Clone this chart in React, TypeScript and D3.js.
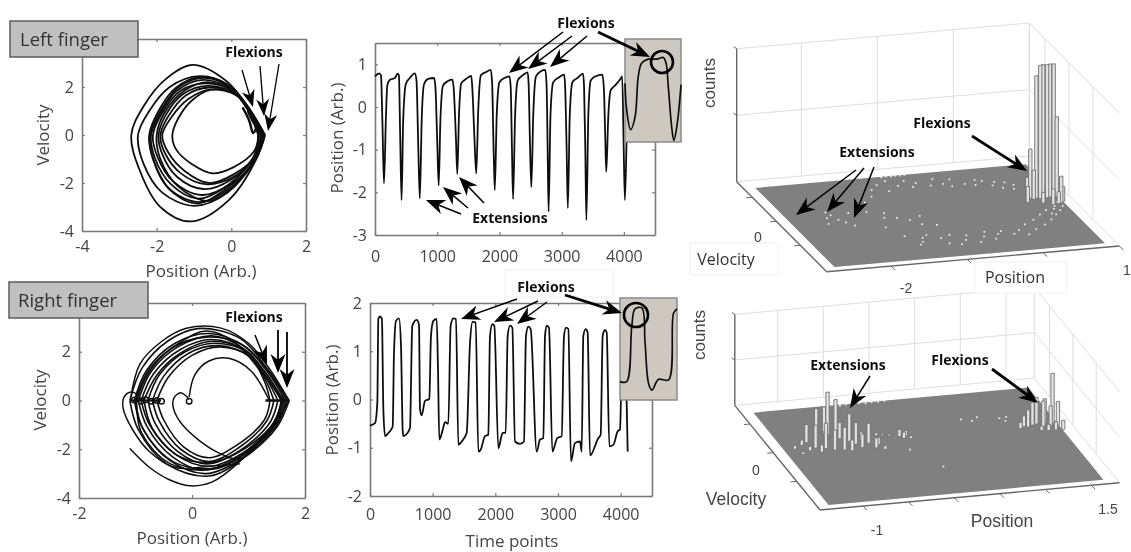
import React, { useEffect, useRef } from 'react';
import * as d3 from 'd3';

type P = [number, number];
type Bar = [number, number, number];

// Left finger phase loops: [position, velocity]
const leftLoops: P[][] = [
  [[-2.68,0],[-2.35,1.2],[-1.75,2.34],[-1.03,2.92],[-0.15,2.27],[0.48,1.1],[0.88,0],[0.66,-1.03],[-0.06,-2.7],[-1.08,-3.6],[-1.92,-2.97],[-2.46,-1.45]],
  [[-2.5,0],[-2.2,1.0],[-1.65,2.0],[-0.85,2.45],[-0.1,2.1],[0.45,1.05],[0.85,0],[0.62,-1.0],[-0.1,-2.4],[-1.0,-2.95],[-1.85,-2.4],[-2.35,-1.2]],
  [[-2.2,0],[-1.95,1.0],[-1.5,1.95],[-0.8,2.42],[-0.05,2.0],[0.5,1.0],[0.9,0],[0.65,-1.0],[-0.15,-2.25],[-0.95,-2.85],[-1.7,-2.2],[-2.1,-1.0]],
  [[-2.18,0],[-1.88,1.05],[-1.4,2.0],[-0.72,2.38],[0,1.95],[0.42,1.1],[0.8,0],[0.62,-1.1],[-0.2,-2.4],[-0.85,-2.8],[-1.62,-2.3],[-2.08,-1.05]],
  [[-2.15,0],[-1.9,0.9],[-1.45,1.85],[-0.75,2.3],[0,1.9],[0.45,1.05],[0.72,0],[0.6,-0.9],[-0.1,-2.1],[-0.9,-2.65],[-1.62,-2.05],[-2.05,-0.95]],
  [[-2.1,0],[-1.82,1.0],[-1.35,1.85],[-0.7,2.15],[0.02,1.85],[0.5,0.95],[0.8,0],[0.62,-0.85],[-0.05,-2.05],[-0.8,-2.5],[-1.55,-1.95],[-1.98,-0.9]],
  [[-2.0,0],[-1.78,0.95],[-1.25,1.85],[-0.62,2.2],[0.05,1.8],[0.52,0.95],[0.88,0],[0.68,-0.95],[0.02,-2.2],[-0.62,-2.75],[-1.42,-2.15],[-1.9,-1.0]],
  [[-1.95,0],[-1.75,0.85],[-1.3,1.7],[-0.65,2.05],[0.05,1.75],[0.55,0.9],[0.72,0],[0.65,-0.8],[0,-1.85],[-0.75,-2.25],[-1.45,-1.75],[-1.85,-0.8]],
  [[-1.9,0],[-1.68,0.8],[-1.22,1.65],[-0.6,1.98],[0.1,1.72],[0.58,0.85],[0.85,0],[0.68,-0.85],[0.05,-1.75],[-0.7,-2.05],[-1.35,-1.6],[-1.78,-0.75]],
  [[-1.85,0],[-1.6,0.75],[-1.15,1.5],[-0.55,1.9],[0.12,1.68],[0.6,0.8],[0.9,0],[0.7,-0.8],[0.05,-1.65],[-0.6,-2.0],[-1.25,-1.5],[-1.7,-0.7]],
  [[-1.58,0],[-1.42,0.7],[-1.05,1.45],[-0.55,1.88],[0.15,1.65],[0.6,0.78],[0.75,0],[0.6,-0.7],[0.05,-1.35],[-0.5,-1.6],[-1.05,-1.22],[-1.48,-0.6]]
];
const leftFlexSweep: P[] = [[0.3,1.15],[0.42,0.8],[0.5,0.5],[0.58,0.08],[0.66,0.3],[0.56,0.62],[0.44,1.0],[0.54,0.78],[0.66,0.45],[0.76,0.12]];

// Right finger phase loops, split at both end points
const rightLoops: P[][] = [
  [[-1.1,0],[-0.88,1.35],[-0.42,2.45],[0.1,2.95],[0.85,2.55],[1.35,1.25],[1.72,0],[1.5,-1.1],[0.95,-2.3],[0.3,-3.1],[-0.45,-2.6],[-0.95,-1.2]],
  [[-1.02,0],[-0.8,1.25],[-0.3,2.35],[0.3,2.75],[0.95,2.2],[1.4,1.05],[1.68,0],[1.5,-1.0],[0.9,-2.35],[0.25,-3.0],[-0.4,-2.45],[-0.88,-1.1]],
  [[-0.98,0],[-0.78,1.1],[-0.35,2.15],[0.25,2.6],[0.88,2.3],[1.36,1.1],[1.65,0],[1.52,-0.85],[1.05,-2.0],[0.42,-2.8],[-0.38,-2.6],[-0.9,-1.3]],
  [[-0.95,0],[-0.72,1.2],[-0.25,2.2],[0.35,2.65],[0.9,2.15],[1.35,1.0],[1.6,0],[1.42,-1.0],[0.85,-2.25],[0.2,-2.85],[-0.35,-2.3],[-0.8,-1.05]],
  [[-0.9,0],[-0.68,1.1],[-0.2,2.1],[0.35,2.5],[0.95,2.05],[1.35,0.95],[1.62,0],[1.45,-1.0],[0.9,-2.15],[0.3,-2.7],[-0.3,-2.2],[-0.75,-1.0]],
  [[-0.85,0],[-0.62,1.05],[-0.22,1.92],[0.3,2.42],[0.85,2.15],[1.3,1.02],[1.58,0],[1.45,-0.9],[0.95,-1.95],[0.38,-2.52],[-0.22,-2.3],[-0.7,-1.15]],
  [[-0.78,0],[-0.58,1.05],[-0.12,2.0],[0.42,2.35],[1.0,1.95],[1.32,0.9],[1.52,0],[1.38,-0.9],[0.85,-2.05],[0.25,-2.6],[-0.25,-2.1],[-0.65,-0.95]],
  [[-0.7,0],[-0.5,1.0],[-0.05,1.95],[0.45,2.25],[1.0,1.85],[1.3,0.85],[1.45,0],[1.32,-0.85],[0.82,-1.95],[0.3,-2.5],[-0.2,-2.0],[-0.58,-0.85]],
  [[-0.62,0],[-0.42,0.95],[0,1.85],[0.5,2.2],[1.02,1.8],[1.28,0.8],[1.38,0],[1.28,-0.8],[0.78,-1.85],[0.3,-2.35],[-0.15,-1.9],[-0.5,-0.8]],
  [[-1.0,0],[-0.75,1.3],[-0.2,2.4],[0.25,2.85],[0.75,2.4],[1.25,1.1],[1.62,0],[1.45,-1.05],[1.0,-2.05],[0.45,-2.75],[-0.3,-2.55],[-0.85,-1.25]]
];

const rightOuterTail: P[] = [[-1.1,-1.97],[-0.75,-2.75],[-0.4,-3.25],[-0.04,-3.5],[0.35,-3.35],[0.8,-2.6],[1.2,-1.6],[1.5,-0.8],[1.72,0]];
const rightBigArc: P[] = [[-1.08,0.15],[-0.92,1.5],[-0.55,2.4],[-0.1,2.96],[0.5,2.98],[1.0,2.35],[1.4,1.2],[1.7,0.05]];
const rightCurl: P[] = [[0.85,-2.6],[0.3,-2.7],[-0.3,-2.75],[-0.75,-2.1],[-1.05,-1.2],[-1.22,-0.3],[-1.2,0.15],[-1.08,0.35],[-0.95,0.2],[-0.9,0]];
const rightInner: P[] = [[1.37,0],[1.05,1.2],[0.67,1.72],[0.3,1.62],[0.05,1.05],[-0.05,0.15]];
const rightInnerLow: P[] = [[-0.05,0.05],[-0.2,0.32],[-0.32,0.1],[-0.33,-0.3],[-0.15,-1.05],[0.43,-2.1],[0.85,-2.4],[1.15,-1.8]];
const rightFlatEnd: P[] = [[1.3,0],[1.72,0]];
const rightFlatStart: P[] = [[-1.1,0],[-0.55,0]];
const rightRings: P[] = [[-1.02,0.02],[-0.9,-0.03],[-0.82,0.03],[-0.72,-0.03],[-0.62,0],[-0.54,-0.03],[-0.05,-0.03]];

// Position traces: [time point, position]
const leftTrace: P[] = [[0,0.72],[70,0.79],[96,0.74],[120,-0.4],[144,-1.79],[176,-0.23],[197,0.5],[240,0.64],[320,0.68],[363,0.78],[384,0.74],[405,-0.7],[427,-2.18],[453,-0.31],[496,0.54],[560,0.68],[640,0.79],[667,0.62],[695,-0.9],[720,-2.14],[752,-0.23],[789,0.54],[853,0.66],[949,0.68],[971,0.47],[1000,-0.8],[1024,-1.84],[1051,-0.31],[1093,0.5],[1173,0.61],[1243,0.64],[1264,0.45],[1300,-0.7],[1323,-1.57],[1349,-0.23],[1387,0.56],[1467,0.66],[1547,0.73],[1563,0.47],[1600,-0.8],[1627,-1.56],[1659,-0.08],[1701,0.74],[1787,0.82],[1861,0.87],[1883,0.54],[1905,-0.9],[1925,-1.95],[1957,-0.16],[2000,0.58],[2080,0.68],[2160,0.72],[2181,0.47],[2200,-0.9],[2219,-2.16],[2251,-0.23],[2293,0.62],[2373,0.74],[2453,0.81],[2469,0.54],[2490,-0.8],[2512,-1.88],[2544,-0.16],[2587,0.72],[2667,0.84],[2736,0.87],[2757,0.54],[2775,-1.0],[2790,-2.45],[2821,-0.16],[2864,0.58],[2960,0.7],[3040,0.76],[3056,0.47],[3080,-1.0],[3099,-2.37],[3131,-0.16],[3173,0.58],[3253,0.68],[3344,0.78],[3360,0.47],[3380,-1.0],[3397,-2.65],[3429,-0.16],[3467,0.62],[3547,0.72],[3653,0.76],[3680,0.39],[3700,-0.7],[3717,-1.52],[3749,-0.23],[3787,0.39],[3840,0.48],[3947,0.66],[3973,0.72],[3995,-0.8],[4016,-2.18],[4053,-0.23],[4080,0.5]];
const rightTrace: P[] = [[0,-0.54],[80,-0.49],[117,-0.07],[133,1.67],[160,1.72],[190,1.67],[213,-0.2],[240,-0.76],[290,-0.7],[362,-0.56],[383,0.97],[415,1.63],[463,1.68],[495,1.1],[521,-0.62],[532,-0.76],[574,-0.73],[638,-0.59],[675,1.53],[745,1.65],[782,1.55],[798,-0.2],[824,-0.33],[878,-0.03],[947,0.01],[973,1.32],[1011,1.63],[1064,1.67],[1085,0.63],[1106,-0.83],[1160,-0.63],[1197,-0.47],[1250,-0.5],[1287,1.53],[1330,1.68],[1372,1.67],[1410,-0.94],[1463,-0.87],[1543,-0.69],[1596,1.18],[1638,1.61],[1686,1.6],[1729,-1.08],[1766,-1.04],[1835,-0.76],[1888,-0.73],[1915,1.32],[1952,1.56],[1984,1.53],[2048,-1.01],[2117,-0.69],[2165,-0.69],[2197,1.32],[2234,1.53],[2271,1.49],[2314,-0.87],[2394,-0.92],[2457,-0.87],[2489,1.32],[2527,1.51],[2564,1.46],[2660,-1.08],[2713,-0.83],[2766,-0.8],[2793,1.32],[2819,1.53],[2856,1.49],[2910,-1.08],[2989,-0.8],[3059,-0.76],[3096,1.32],[3128,1.49],[3165,1.46],[3207,-1.28],[3271,-0.9],[3351,-0.87],[3378,-1.08],[3404,1.32],[3441,1.46],[3473,1.39],[3511,-1.16],[3644,-0.8],[3681,-0.73],[3713,1.32],[3750,1.44],[3777,1.39],[3819,-0.97],[3883,-0.94],[3952,-0.66],[3989,-0.62],[4016,0.63],[4040,1.4],[4070,1.45],[4096,-0.07],[4112,-1.08]];

// Zoomed insets: [inset time, position]
const leftInset: P[] = [[0,-0.43],[9,-1.6],[30,-2.46],[54,-1.9],[71,-0.14],[89,0.44],[125,0.62],[170,0.62],[205,0.69],[220,0.44],[232,-0.58],[250,-2.34],[262,-2.93],[280,-2.19],[300,-0.5]];
const rightInset: P[] = [[0,-1.28],[35,-1.28],[62,0.89],[79,1.57],[115,1.61],[132,0.23],[150,-1.34],[168,-1.61],[203,-1.19],[256,-1.21],[282,1.41],[300,1.57]];

// 2D histogram cells on the floor: [position, velocity, counts]
const leftBars: Bar[] = [[0.42,-0.25,12],[0.46,0.05,16],[0.5,0.05,37],[0.53,-0.05,22],[0.575,0.02,92],[0.62,-0.02,100],[0.665,0.02,100],[0.71,-0.02,100],[0.755,0.02,100],[0.8,0,100],[0.84,0,60],[0.86,-0.4,11],[0.82,-0.5,20],[0.78,-0.55,9],[0.7,-0.6,12],[0.6,-0.4,8]];
const rightBars: Bar[] = [[-1.22,0.1,4],[-1.18,-0.3,3],[-1.12,0.3,6],[-1.08,-0.1,5],[-1.05,0.45,20],[-1.0,0.05,25],[-0.97,-0.25,8],[-0.93,0.55,35],[-0.9,-0.05,28],[-0.86,0.3,14],[-0.82,-0.2,22],[-0.8,0.9,30],[-0.77,0.83,47],[-0.75,0.3,47],[-0.72,-0.25,25],[-0.68,0.5,18],[-0.65,-0.35,12],[-0.6,0.3,30],[-0.56,0.05,24],[-0.52,-0.2,15],[-0.47,0.3,9],[-0.42,0.05,22],[-0.38,-0.3,11],[-0.33,-0.1,8],[-0.3,-0.45,4],[-0.28,0.5,3],[-0.22,0.45,2],[-0.15,0.4,2],[-0.05,0.3,8],[-0.02,0.15,7],[0.02,0.3,6],[0.05,0.1,3],
  [1.25,0.1,7],[1.3,0.2,12],[1.34,0.15,19],[1.4,0.25,25],[1.45,0.3,29],[1.5,0.1,28],[1.54,0.3,27],[1.58,0.1,22],[1.62,0.25,55],[1.66,0.1,26],[1.68,-0.2,10],[1.6,-0.2,9],[1.45,-0.15,5],[1.52,-0.2,7]];

// Isolated low-count cells, too small to show a bar
const leftDots: P[] = [[-2.2,-0.1],[-2.12,0.1],[-2.08,-0.3],[-2.02,-0.55],[-2.25,-0.55],[-2.15,0.35],[-1.95,-0.85],[-1.88,0.15],[-1.72,0.5],[-1.65,0.1],[-1.55,0.85],[-1.4,1.25],[-1.32,1.75],[-1.2,2.1],[-1.05,2.35],[-1.12,1.55],[-0.95,1.9],[-0.82,2.25],[-0.78,1.72],[-0.7,2.0],[-0.55,1.7],[-0.45,2.2],[-0.38,1.75],[-0.3,1.5],[-0.25,2.05],[-0.12,1.6],[0,1.45],[0.05,1.85],[0.12,1.7],[0.2,1.3],[0.26,1.55],[0.3,1.05],[0.38,1.45],[0.42,0.9],[0.46,1.2],
  [-1.45,-0.1],[-1.5,-0.45],[-1.35,-0.55],[-1.22,-0.8],[-1.12,-1.2],[-1.05,-0.55],[-0.95,-1.35],[-1.6,-1.2],[-1.48,-2.0],[-1.38,-2.75],[-1.32,-2.55],[-1.28,-2.25],[-1.2,-2.05],[-1.02,-2.85],[-1.06,-2.4],[-0.92,-2.2],[-0.88,-3.0],[-0.78,-2.7],[-0.72,-2.35],[-0.62,-2.95],[-0.52,-2.55],[-0.46,-2.2],[-0.4,-2.8],[-0.32,-2.45],[-0.25,-2.25],[-0.12,-2.55],[-0.02,-2.3],[0.05,-2.7],[0.12,-1.9],[0.2,-2.35],[0.28,-1.6],[0.36,-2.05],[0.42,-1.25],[0.5,-1.7],[0.55,-0.95],[0.58,-1.25],[0.62,-1.35],[0.66,-0.9],[0.7,-0.7],[0.72,-1.05],[0.78,-0.4],[0.8,-0.75],
  [-1.05,2.66],[-0.98,2.7],[-0.92,2.66],[-0.86,2.7],[-0.8,2.68],[-0.74,2.7]];
const rightDots: P[] = [[-0.4,2.66],[-0.33,2.7],[-0.26,2.68],[-0.19,2.7],[-0.12,2.66],[-0.05,2.7],[0.02,2.68],[0.09,2.7],
  [1.12,0.9],[1.16,0.7],[1.2,0.95],[0.72,1.05],[0.82,0.9],[0.9,1.1],[0.15,-1.9],[-0.05,-0.6]];

// Axis ticks
const leftPhaseX = [-4, -2, 0, 2];
const rightPhaseX = [-2, 0, 2];
const phaseY = [-4, -2, 0, 2];
const traceT = [0, 1000, 2000, 3000, 4000];
const leftTraceY = [-3, -2, -1, 0, 1];
const rightTraceY = [-2, -1, 0, 1, 2];
const leftPosTicks = [-2, -1, 0, 1];
const rightPosTicks = [-1, -0.5, 0, 0.5, 1, 1.5];
const velTicks = [-2, 0, 2];
const countTicks = [50, 100];

const FONT = '"Open Sans", sans-serif';
const INK = '#111';
const AXIS = '#7a7a7a';
const LABEL = '#444';

type G = d3.Selection<SVGGElement, unknown, null, undefined>;

const App: React.FC = () => {
  const svgRef = useRef<SVGSVGElement>(null);

  useEffect(() => {
    if (!svgRef.current) return;
    const svg = d3.select(svgRef.current);
    svg.selectAll('*').remove();

    svg.append('filter').attr('id', 'soft')
      .attr('filterUnits', 'userSpaceOnUse')
      .attr('x', 0).attr('y', 0).attr('width', 1131).attr('height', 552)
      .append('feGaussianBlur').attr('stdDeviation', 0.4);

    const root: G = svg.append('g').attr('filter', 'url(#soft)') as any;
    root.append('rect').attr('width', 1131).attr('height', 552).attr('fill', '#fff');

    const txt = (s: string, x: number, y: number, size: number, opts: any = {}) => {
      const t = root.append('text')
        .attr('x', x).attr('y', y)
        .attr('font-family', opts.family || FONT)
        .attr('font-size', size)
        .attr('font-weight', opts.weight || 400)
        .attr('fill', opts.fill || LABEL)
        .attr('text-anchor', opts.anchor || 'middle')
        .text(s);
      if (opts.rotate) t.attr('transform', `rotate(-90 ${x} ${y})`);
      return t;
    };

    // Frame with inward ticks on all four sides, like a boxed MATLAB axes
    const frame = (x: d3.ScaleLinear<number, number>, y: d3.ScaleLinear<number, number>, xt: number[], yt: number[], xPad = 13) => {
      const [x0, x1] = x.range();
      const [y0, y1] = y.range();
      const g = root.append('g');
      const tickFmt = (d: any) => String(d);
      const style = (a: d3.Selection<SVGGElement, unknown, null, undefined>) => {
        a.select('.domain').attr('stroke', AXIS).attr('stroke-width', 1.6);
        a.selectAll('line').attr('stroke', AXIS).attr('stroke-width', 1.2);
        a.selectAll('text').attr('font-family', FONT).attr('font-size', 16).attr('fill', LABEL);
      };
      const bottom = g.append('g').attr('transform', `translate(0,${y0})`)
        .call(d3.axisBottom(x).tickValues(xt).tickSize(-3).tickSizeOuter(0).tickPadding(xPad).tickFormat(tickFmt));
      style(bottom as any);
      const left = g.append('g').attr('transform', `translate(${x0},0)`)
        .call(d3.axisLeft(y).tickValues(yt).tickSize(-3).tickSizeOuter(0).tickPadding(8).tickFormat(tickFmt));
      style(left as any);
      const top = g.append('g').attr('transform', `translate(0,${y1})`)
        .call(d3.axisTop(x).tickValues(xt).tickSize(-3).tickSizeOuter(0).tickFormat(() => ''));
      style(top as any);
      const right = g.append('g').attr('transform', `translate(${x1},0)`)
        .call(d3.axisRight(y).tickValues(yt).tickSize(-3).tickSizeOuter(0).tickFormat(() => ''));
      style(right as any);
    };

    const drawLine = (g: G, pts: P[], x: any, y: any, curve: d3.CurveFactory, w = 1.5) => {
      const line = d3.line<P>().x(d => x(d[0])).y(d => y(d[1])).curve(curve);
      g.append('path').attr('d', line(pts)!).attr('fill', 'none')
        .attr('stroke', INK).attr('stroke-width', w).attr('stroke-linejoin', 'round');
    };

    // Arrow: shaft plus a stealth head that ends at the tip
    const arrow = (x1: number, y1: number, x2: number, y2: number, w = 1.5, len = 19, half = 7.5) => {
      const a = Math.atan2(y2 - y1, x2 - x1);
      const c = Math.cos(a), s = Math.sin(a);
      const at = (back: number, side: number) => `${x2 - back * c - side * s},${y2 - back * s + side * c}`;
      root.append('line')
        .attr('x1', x1).attr('y1', y1)
        .attr('x2', x2 - len * 0.6 * c).attr('y2', y2 - len * 0.6 * s)
        .attr('stroke', '#000').attr('stroke-width', w);
      root.append('polygon')
        .attr('points', [at(0, 0), at(len, half), at(len * 0.7, 0), at(len, -half)].join(' '))
        .attr('fill', '#000');
    };

    const bold = (s: string, x: number, y: number) =>
      txt(s, x, y, 14, { weight: 700, fill: '#111' });

    const ghostBox = (x: number, y: number, w: number, h: number) =>
      root.append('rect').attr('x', x).attr('y', y).attr('width', w).attr('height', h)
        .attr('fill', '#fff').attr('stroke', '#f0f0f0');

    // ---------- phase portraits ----------
    const ax = d3.scaleLinear().domain([-4, 2]).range([82, 306]);
    const ay = d3.scaleLinear().domain([-4, 4]).range([231, 39]);
    frame(ax, ay, leftPhaseX, phaseY, 10);
    const ag = root.append('g') as unknown as G;
    // start at the flexion point so that only the right end stays sharp
    leftLoops.forEach(l => {
      const open = [...l.slice(6), ...l.slice(0, 7)] as P[];
      drawLine(ag, open, ax, ay, d3.curveCatmullRom, 1.8);
    });
    drawLine(ag, leftFlexSweep, ax, ay, d3.curveCatmullRom, 2.4);

    const dx = d3.scaleLinear().domain([-2, 2]).range([79, 305]);
    const dy = d3.scaleLinear().domain([-4, 4]).range([498, 303]);
    frame(dx, dy, rightPhaseX, phaseY, 10);
    const dg = root.append('g') as unknown as G;
    rightLoops.forEach(l => {
      drawLine(dg, l.slice(0, 7), dx, dy, d3.curveCatmullRom, 1.6);
      drawLine(dg, [...l.slice(6), l[0]], dx, dy, d3.curveCatmullRom, 1.6);
    });
    [rightOuterTail, rightBigArc, rightCurl, rightInner, rightInnerLow].forEach(l =>
      drawLine(dg, l, dx, dy, d3.curveCatmullRom, 1.5));
    drawLine(dg, rightFlatEnd, dx, dy, d3.curveLinear, 2.6);
    drawLine(dg, rightFlatStart, dx, dy, d3.curveLinear, 2.2);
    rightRings.forEach(r => {
      dg.append('circle').attr('cx', dx(r[0])).attr('cy', dy(r[1])).attr('r', 2.8)
        .attr('fill', 'none').attr('stroke', INK).attr('stroke-width', 1.4);
    });

    // ---------- position traces ----------
    const bx = d3.scaleLinear().domain([0, 4500]).range([375, 655]);
    const by = d3.scaleLinear().domain([-3, 1.5]).range([235, 43]);
    frame(bx, by, traceT, leftTraceY, 16);
    drawLine(root, leftTrace, bx, by, d3.curveMonotoneX, 1.8);

    const ex = d3.scaleLinear().domain([0, 4500]).range([370, 652]);
    const ey = d3.scaleLinear().domain([-2, 2]).range([496, 303]);
    frame(ex, ey, traceT, rightTraceY, 13);
    drawLine(root, rightTrace, ex, ey, d3.curveMonotoneX, 1.8);

    // ---------- insets ----------
    const inset = (x0: number, y0: number, w: number, h: number, pts: P[], vDom: number[], c: number[]) => {
      root.append('rect').attr('x', x0).attr('y', y0).attr('width', w).attr('height', h)
        .attr('fill', '#cdc9c0').attr('stroke', '#8a8a8a').attr('stroke-width', 1.5);
      const ix = d3.scaleLinear().domain([0, 300]).range([x0, x0 + w]);
      const iy = d3.scaleLinear().domain(vDom).range([y0 + h, y0]);
      drawLine(root, pts, ix, iy, d3.curveCatmullRom, 1.7);
      root.append('circle').attr('cx', c[0]).attr('cy', c[1]).attr('r', c[2])
        .attr('fill', 'none').attr('stroke', '#000').attr('stroke-width', 2.6);
    };
    inset(625, 39, 56, 103, leftInset, [-3, 1.5], [662, 62, 11]);
    inset(620, 298, 57, 102, rightInset, [-2, 2], [636, 315, 12]);

    // ---------- 3D histograms ----------
    const hist = (cfg: any) => {
      const posX = d3.scaleLinear().domain(cfg.pos).range([0, cfg.posD[0]]);
      const posY = d3.scaleLinear().domain(cfg.pos).range([0, cfg.posD[1]]);
      const velX = d3.scaleLinear().domain(cfg.vel).range([0, cfg.velD[0]]);
      const velY = d3.scaleLinear().domain(cfg.vel).range([0, cfg.velD[1]]);
      const cnt = d3.scaleLinear().domain([0, 100]).range([0, cfg.height]);
      const pr = (p: number, v: number, c = 0): P =>
        [cfg.corner[0] + posX(p) + velX(v), cfg.corner[1] + posY(p) + velY(v) - cnt(c)];
      const seg = (a: P, b: P, stroke: string, w: number) =>
        root.append('line').attr('x1', a[0]).attr('y1', a[1]).attr('x2', b[0]).attr('y2', b[1])
          .attr('stroke', stroke).attr('stroke-width', w);
      const [pMin, pMax] = cfg.pos;
      const [vMin, vMax] = cfg.vel;
      const GRID = '#dedede';

      // back wall and right wall grid
      [0, 50, 100].forEach(c => {
        seg(pr(pMin, vMax, c), pr(pMax, vMax, c), GRID, 1);
        seg(pr(pMax, vMax, c), pr(pMax, vMin, c), GRID, 1);
      });
      cfg.posTicks.forEach((p: number) => seg(pr(p, vMax, 0), pr(p, vMax, 100), GRID, 1));
      velTicks.forEach(v => seg(pr(pMax, v, 0), pr(pMax, v, 100), GRID, 1));
      seg(pr(pMax, vMax, 0), pr(pMax, vMax, 100), GRID, 1);

      // floor
      const [fp0, fp1] = cfg.floorPos;
      const [fv0, fv1] = cfg.floorVel;
      root.append('polygon')
        .attr('points', [pr(fp0, fv0), pr(fp1, fv0), pr(fp1, fv1), pr(fp0, fv1)].map(d => d.join(',')).join(' '))
        .attr('fill', '#808080');

      cfg.dots.forEach((d: P) => {
        const [x, y] = pr(d[0], d[1]);
        root.append('rect').attr('x', x - 0.8).attr('y', y - 0.8).attr('width', 1.7).attr('height', 1.7).attr('fill', '#eee');
      });

      // bars back to front
      const hw = cfg.barHalf;
      [...cfg.bars].sort((a: Bar, b: Bar) => b[1] - a[1]).forEach((b: Bar) => {
        const q = [pr(b[0] - hw, b[1], 0), pr(b[0] + hw, b[1], 0), pr(b[0] + hw, b[1], b[2]), pr(b[0] - hw, b[1], b[2])];
        root.append('polygon').attr('points', q.map(d => d.join(',')).join(' '))
          .attr('fill', '#e2e2e2').attr('stroke', '#707070').attr('stroke-width', 0.9);
      });

      // axes
      seg(pr(pMin, vMin), pr(pMax, vMin), '#666', 1.4);
      seg(pr(pMin, vMin), pr(pMin, vMax), '#666', 1.4);
      seg(pr(pMin, vMax, 0), pr(pMin, vMax, 100), '#666', 1.4);
      cfg.posTicks.forEach((p: number) => {
        const a = pr(p, vMin);
        seg(a, [a[0] + 4, a[1] + 4], '#666', 1);
      });
      velTicks.forEach(v => {
        const a = pr(pMin, v);
        seg(a, [a[0] - 6, a[1] + 0.5], '#666', 1);
      });
      countTicks.forEach(c => {
        const a = pr(pMin, vMax, c);
        seg(a, [a[0] - 3, a[1] - 2], '#666', 1);
      });
    };

    hist({
      corner: [826.7, 271.7], pos: [-2.85, 1], vel: [-4.2, 3.3],
      posD: [292.6, -25.7], velD: [-90, -90], height: 133,
      floorPos: [-2.7, 0.86], floorVel: [-3.9, 2.7],
      posTicks: leftPosTicks, bars: leftBars, dots: leftDots, barHalf: 0.022
    });
    hist({
      corner: [820, 510], pos: [-1.47, 1.81], vel: [-4, 3.3],
      posD: [299.5, -27.3], velD: [-85.2, -104.6], height: 91,
      floorPos: [-1.34, 1.67], floorVel: [-3.72, 2.72],
      posTicks: rightPosTicks, bars: rightBars, dots: rightDots, barHalf: 0.018
    });

    // ---------- text and boxes ----------
    txt('Position (Arb.)', 201, 277, 17);
    txt('Velocity', 49, 135, 17, { rotate: true });
    txt('Position (Arb.)', 192, 544, 17);
    txt('Velocity', 46, 400, 17, { rotate: true });
    txt('Position (Arb.)', 343, 138, 17, { rotate: true });
    txt('Position (Arb.)', 338, 400, 17, { rotate: true });
    txt('Time points', 512, 547, 17);

    [[10, 21, 128, 36, 'Left finger', 20, 46], [9, 282, 139, 36, 'Right finger', 18, 307]].forEach(([x, y, w, h, s, tx, ty]: any) => {
      root.append('rect').attr('x', x).attr('y', y).attr('width', w).attr('height', h)
        .attr('fill', '#c0c0c0').attr('stroke', '#5c5c5c').attr('stroke-width', 1.5);
      txt(s, tx, ty, 18.5, { anchor: 'start', fill: '#333' });
    });

    const HELV = '"Liberation Sans", sans-serif';
    txt('counts', 715, 83, 17, { rotate: true, family: HELV });
    txt('0', 758, 242, 14, { family: HELV });
    ghostBox(690, 243, 88, 32);
    txt('Velocity', 726, 265, 16, { fill: '#333' });
    txt('-2', 906, 293, 14, { family: HELV });
    ghostBox(975, 262, 92, 31);
    txt('Position', 1015, 283, 16, { fill: '#333' });
    txt('1', 1127, 275, 14, { family: HELV });

    txt('counts', 705, 335, 17, { rotate: true, family: HELV });
    txt('0', 756, 475, 14, { family: HELV });
    txt('Velocity', 736, 505, 17.5, { family: HELV });
    txt('-1', 877, 535, 14, { family: HELV });
    txt('Position', 1002, 527, 17.5, { family: HELV });
    txt('1.5', 1108, 514, 14, { family: HELV });

    // ---------- annotations ----------
    bold('Flexions', 254, 57);
    arrow(242, 70, 253, 107, 1.3, 17, 6.5);
    arrow(260, 66, 264, 116, 1.3, 17, 6.5);
    arrow(279, 64, 268, 131, 1.3, 17, 6.5);

    bold('Flexions', 586, 28);
    arrow(563, 32, 509, 73);
    arrow(572, 36, 528, 69);
    arrow(587, 36, 550, 67);
    arrow(598, 32, 650, 57, 2.8);
    bold('Extensions', 510, 223);
    arrow(461, 214, 426, 200);
    arrow(468, 208, 443, 187);
    arrow(484, 203, 459, 177);

    bold('Flexions', 942, 128);
    arrow(972, 136, 1027, 171, 2.8);
    bold('Extensions', 877, 157);
    arrow(856, 170, 796, 215);
    arrow(864, 168, 827, 212);
    arrow(874, 167, 854, 218);

    bold('Flexions', 254, 322);
    arrow(255, 335, 267, 365, 1.5);
    arrow(278, 330, 278, 373, 1.8);
    arrow(287, 332, 287, 388, 1.8);

    ghostBox(505, 270, 108, 27);
    bold('Flexions', 546, 292);
    arrow(517, 299, 461, 319);
    arrow(538, 301, 494, 322);
    arrow(547, 302, 517, 324);
    arrow(565, 295, 622, 313, 2.8);

    bold('Flexions', 960, 365);
    arrow(992, 369, 1038, 403, 2.8);
    bold('Extensions', 848, 370);
    arrow(870, 376, 850, 408);
  }, []);

  return (
    <svg
      ref={svgRef}
      width={1131}
      height={552}
      viewBox="0 0 1131 552"
      style={{ position: 'absolute', left: 0, top: 0, display: 'block' }}
    />
  );
};

export default App;
